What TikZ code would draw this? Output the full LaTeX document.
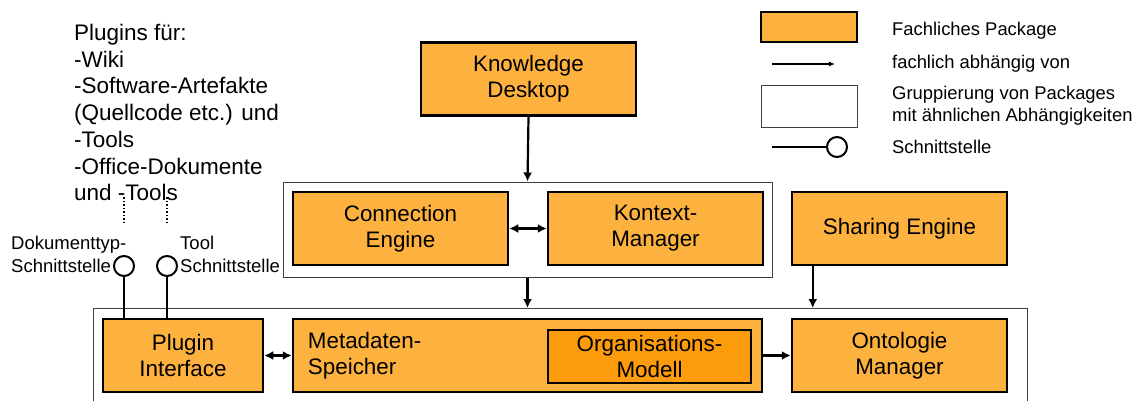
\documentclass[tikz,border=0pt]{standalone}
\usepackage{fontspec}
\setmainfont{Liberation Sans}
\usetikzlibrary{arrows.meta}

\definecolor{pkgorange}{RGB}{253,178,64}
\definecolor{pkgdark}{RGB}{252,155,12}

\begin{document}
\begin{tikzpicture}[x=1pt,y=-1pt,
  pkg/.style={draw, line width=2.5pt, fill=pkgorange, minimum width=215, minimum height=73,
    inner sep=0pt, align=center, font=\fontsize{22.4}{26}\selectfont},
  grpbox/.style={draw=black!75, line width=1pt, inner sep=0pt},
  dep/.style={line width=2.2pt, -{Latex[length=9pt,width=9pt]}},
  dep2/.style={line width=2.2pt, {Latex[length=9pt,width=9pt]}-{Latex[length=9pt,width=9pt]}},
  iface/.style={circle, draw, line width=2pt, fill=white, minimum size=20, inner sep=0pt},
  lbl/.style={align=left, inner sep=0pt, font=\fontsize{18.5}{23}\selectfont},
  lgtext/.style={anchor=west, align=left, inner sep=0pt, font=\fontsize{18.4}{22}\selectfont}]
\useasboundingbox (0,0) rectangle (1143,401);

% Plugin text at the top left
\node[anchor=north west, align=left, inner sep=0pt, font=\fontsize{22.5}{26.7}\selectfont] (plugtxt) at (74,24)
  {Plugins für:\\-Wiki\\-Software-Artefakte\\(Quellcode etc.) und\\-Tools\\-Office-Dokumente\\und -Tools};

% Packages, top row
\node[pkg] (kd) at (528.5,79) {Knowledge\\Desktop};
\node[grpbox, minimum width=489, minimum height=95] (grp1) at (527.5,229.5) {};
\node[pkg] (ce) at (400.5,228.5) {Connection\\Engine};
\node[pkg] (km) at (655.5,228.5) {Kontext-\\Manager};
\node[pkg] (se) at (899.5,228.5) {Sharing Engine};

% lower group, open at the bottom
\coordinate (g2) at (93,308);
\draw[draw=black!75, line width=1pt] (93,401) -- (g2) -- (1027,308) -- (1027,401);

% Packages, bottom row
\node[pkg, minimum width=160] (pi) at (183,355.5) {Plugin\\Interface};
\node[pkg, minimum width=469] (ms) at (527.5,355.5) {};
\node[anchor=west, align=left, inner sep=0pt, font=\fontsize{22.4}{26}\selectfont] (mstxt) at ([xshift=16pt]ms.west) {Metadaten-\\Speicher};
\node[pkg, line width=1.2pt, fill=pkgdark, minimum width=203, minimum height=53] (om) at (649.5,356.5) {Organisations-\\Modell};
\node[pkg] (on) at (899.5,355.5) {Ontologie\\Manager};

% Schnittstellen of the plugin interface
\node[iface] (ifdok) at (124,266) {};
\node[iface] (iftool) at (167,266) {};
\node[lbl, anchor=west] (dokl) at (11,254.5) {Dokumenttyp-\\Schnittstelle};
\node[lbl, anchor=west] (tooll) at (180,254.5) {Tool\\Schnittstelle};
\draw[line width=2pt] (ifdok.south) -- (ifdok.south |- pi.north);
\draw[line width=2pt] (iftool.south) -- (iftool.south |- pi.north);
\coordinate (dot1) at (124,197);
\coordinate (dot2) at (167,197);
\draw[line width=1.5pt, dotted] (dot1) -- ++(0,27);
\draw[line width=1.5pt, dotted] (dot2) -- ++(0,27);

% dependencies
\draw[dep] (kd.south) -- (grp1.north);
\draw[dep2] (ce.east) -- (km.west);
\draw[dep] (grp1.south) -- (grp1.south |- g2);
\draw[dep] ([xshift=22pt]se.south west) -- ([xshift=22pt]se.south west |- g2);
\draw[dep2] (pi.east) -- (ms.west);
\draw[dep] (ms.east) -- (on.west);

% Legend
\node[pkg, minimum width=96, minimum height=30] (lgpkg) at (809,27) {};
\node[lgtext] (lgpkgt) at (892,31) {Fachliches Package};
\coordinate (lga) at (772,64);
\coordinate (lgb) at (835,64);
\draw[line width=1.5pt, -{Latex[length=6pt,width=5pt]}] (lga) -- (lgb);
\node[lgtext] (lgdept) at (892,64) {fachlich abhängig von};
\node[grpbox, minimum width=96, minimum height=42] (lggrp) at (809,107) {};
\node[lgtext] (lggrpt) at (892,106) {Gruppierung von Packages\\mit ähnlichen Abhängigkeiten};
\node[iface] (lgif) at (837,147) {};
\coordinate (lgc) at (772,147);
\draw[line width=2pt] (lgc) -- (lgif.west);
\node[lgtext] (lgift) at (892,147) {Schnittstelle};
\end{tikzpicture}
\end{document}
